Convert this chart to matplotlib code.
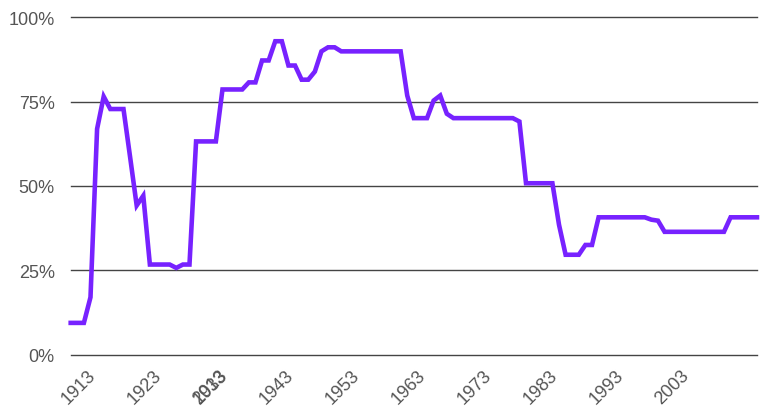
import matplotlib
matplotlib.use("Agg")
from matplotlib import pyplot as plt
from matplotlib.transforms import ScaledTranslation

# top marginal rate
years = list(range(1913, 2018))
rates = [9.4, 9.4, 9.4, 17.0, 66.9, 76.5, 72.8, 72.8, 72.8, 58.6,
         44.2, 47.1, 26.7, 26.7, 26.7, 26.7, 25.7, 26.7, 26.7, 63.2,
         63.2, 63.2, 63.2, 78.6, 78.6, 78.6, 78.6, 80.7, 80.7, 87.2,
         87.2, 92.9, 92.9, 85.7, 85.7, 81.5, 81.5, 83.9, 89.9, 91.1,
         91.1, 89.9, 89.9, 89.9, 89.9, 89.9, 89.9, 89.9, 89.9, 89.9,
         89.9, 76.8, 70.1, 70.1, 70.1, 75.3, 76.8, 71.4, 70.1, 70.1,
         70.1, 70.1, 70.1, 70.1, 70.1, 70.1, 70.1, 70.1, 69.1, 50.8,
         50.8, 50.8, 50.8, 50.8, 38.5, 29.6, 29.6, 29.6, 32.5, 32.5,
         40.7, 40.7, 40.7, 40.7, 40.7, 40.7, 40.7, 40.7, 40.0, 39.7,
         36.4, 36.4, 36.4, 36.4, 36.4, 36.4, 36.4, 36.4, 36.4, 36.4,
         40.7, 40.7, 40.7, 40.7, 40.7]

tick_years = [1913, 1923, 1933, 1943, 1953, 1963, 1973, 1983, 1993, 2003]
tick_labels = [str(y) for y in tick_years]
# the reference draws the "2013" label on top of "1933"
extra_tick = 1933
extra_label = "2013"
y_ticks = [0, 25, 50, 75, 100]
y_labels = ["0%", "25%", "50%", "75%", "100%"]

plt.rcParams['font.family'] = ['Liberation Sans', 'DejaVu Sans']

fig = plt.figure(figsize=(7.61, 4.10), dpi=100)
ax = fig.add_axes([0.0929, 0.1327, 0.9018, 0.8227])

ax.plot(years, rates, color='#7722ff', lw=3.3, solid_joinstyle='miter', clip_on=False, zorder=3)

ax.set_xlim(1913, 2017)
ax.set_ylim(0, 100)
ax.set_yticks(y_ticks)
ax.set_yticklabels(y_labels)
ax.xaxis.remove_overlapping_locs = False
ax.set_xticks(tick_years)
ax.set_xticklabels(tick_labels)
ax.set_xticks([extra_tick], minor=True)
ax.set_xticklabels([extra_label], minor=True)

for v in y_ticks:
    ax.axhline(v, color='#444444', lw=1.0, zorder=1, clip_on=False)

for s in ax.spines.values():
    s.set_visible(False)

ax.tick_params(axis='y', length=0, pad=11.5, labelsize=13, labelcolor='#555555')
ax.tick_params(axis='x', which='both', length=0, pad=8.5, labelsize=13.1, labelcolor='#555555')

shift = ScaledTranslation(8 / 100, 0, fig.dpi_scale_trans)
for lab in ax.get_xticklabels(which='both'):
    lab.set_rotation(45)
    lab.set_ha('center')
    lab.set_va('top')
    lab.set_transform(lab.get_transform() + shift)

fig.savefig("out.png", dpi=100)
